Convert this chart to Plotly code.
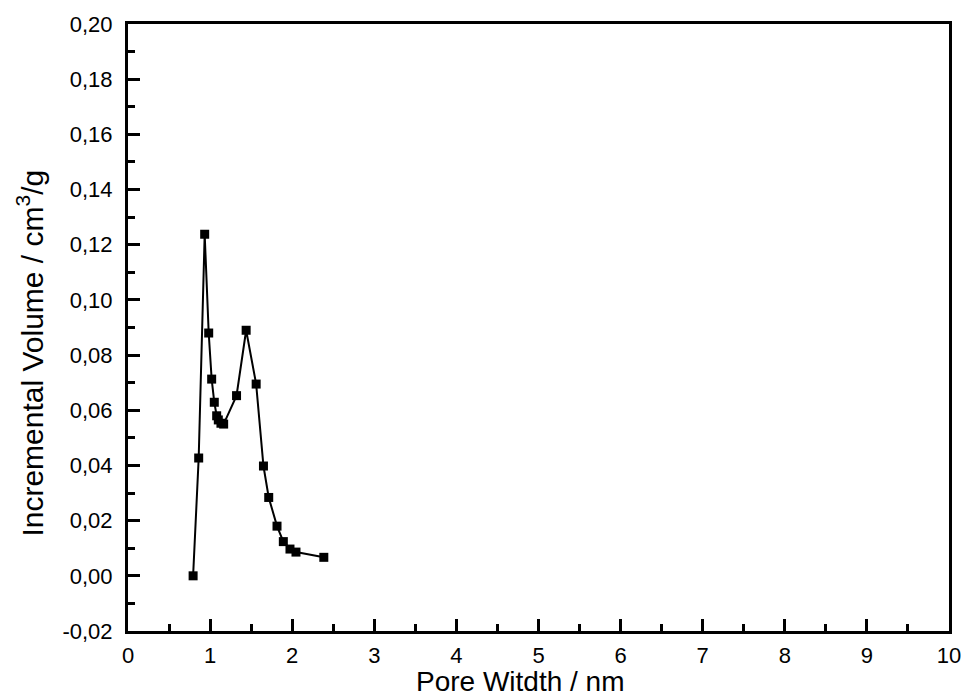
import plotly.graph_objects as go

pore_width = [0.793, 0.861, 0.934, 0.983, 1.019, 1.051, 1.080, 1.100, 1.132, 1.165,
              1.322, 1.439, 1.561, 1.650, 1.714, 1.815, 1.892, 1.973, 2.046, 2.385]
inc_volume = [0.0000, 0.0427, 0.1238, 0.0880, 0.0713, 0.0629, 0.0580, 0.0565, 0.0553, 0.0550,
              0.0653, 0.0890, 0.0695, 0.0398, 0.0284, 0.0180, 0.0124, 0.0097, 0.0086, 0.0067]

y_tick_values = [-0.02, 0.00, 0.02, 0.04, 0.06, 0.08, 0.10, 0.12, 0.14, 0.16, 0.18, 0.20]
y_tick_labels = ["-0,02", "0,00", "0,02", "0,04", "0,06", "0,08", "0,10",
                 "0,12", "0,14", "0,16", "0,18", "0,20"]
x_tick_values = [0, 1, 2, 3, 4, 5, 6, 7, 8, 9, 10]
x_tick_labels = ["0", "1", "2", "3", "4", "5", "6", "7", "8", "9", "10"]

x_title = "Pore Witdth / nm"
y_title = "Incremental Volume / cm<sup>3</sup>/g"

font_family = "Liberation Sans, Arial, sans-serif"

fig = go.Figure()
fig.add_trace(go.Scatter(
    x=pore_width, y=inc_volume, mode="lines+markers",
    line=dict(color="black", width=2),
    marker=dict(symbol="square", size=9, color="black"),
    showlegend=False,
))

axis_common = dict(
    showline=True, linecolor="black", linewidth=3, mirror=True,
    ticks="inside", ticklen=12, tickwidth=2.5, tickcolor="black",
    showgrid=False, zeroline=False,
    tickfont=dict(family=font_family, size=22, color="black"),
)

fig.update_xaxes(range=[0, 10], tickmode="array", tickvals=x_tick_values, ticktext=x_tick_labels,
                 ticklabelstandoff=3,
                 minor=dict(ticks="inside", ticklen=7, tickwidth=2.5, tickcolor="black", dtick=0.5),
                 **axis_common)
fig.update_yaxes(range=[-0.02, 0.20], tickmode="array", tickvals=y_tick_values, ticktext=y_tick_labels,
                 ticklabelstandoff=8,
                 minor=dict(ticks="inside", ticklen=7, tickwidth=2.5, tickcolor="black", dtick=0.01),
                 **axis_common)

fig.add_annotation(text=x_title, xref="paper", yref="paper", x=0.478, y=0, yshift=-50,
                   showarrow=False, font=dict(family=font_family, size=28, color="black"),
                   xanchor="center", yanchor="middle")
fig.add_annotation(text=y_title, xref="paper", yref="paper", x=0, y=0.457, xshift=-98,
                   showarrow=False, textangle=-90,
                   font=dict(family=font_family, size=30, color="black"),
                   xanchor="center", yanchor="middle")

fig.update_layout(
    width=973, height=697,
    margin=dict(l=128, r=19, t=24, b=66),
    plot_bgcolor="white", paper_bgcolor="white",
    separators=",.",
)

fig.write_html("out.html")
